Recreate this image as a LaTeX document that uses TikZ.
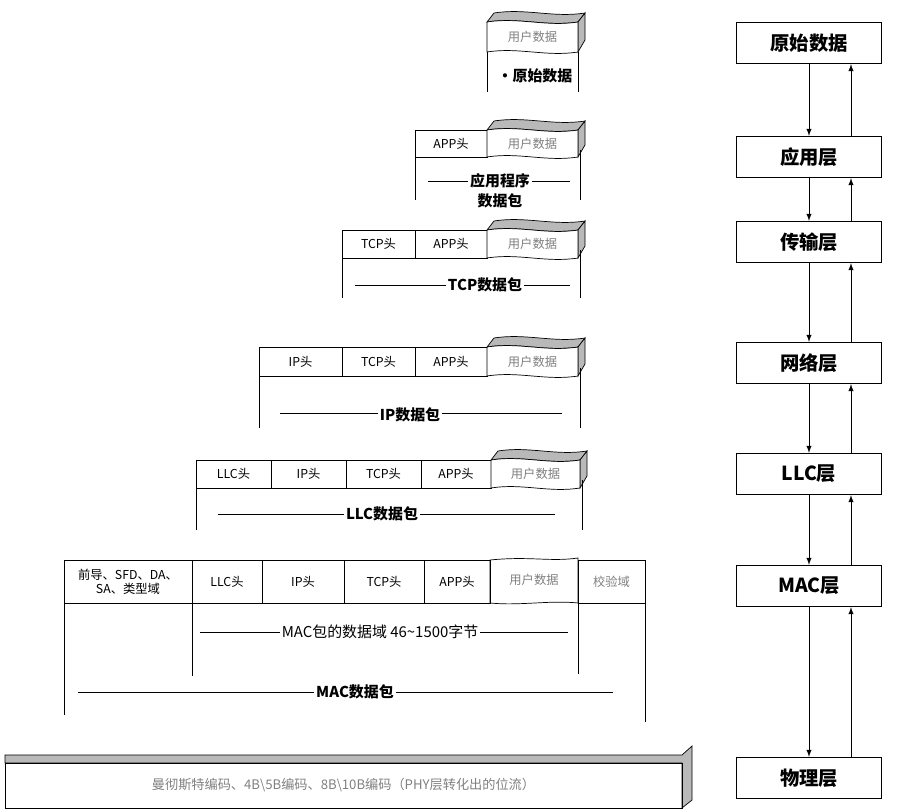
\documentclass[tikz,border=0pt]{standalone}
\usepackage{fontspec}
\setmainfont{Noto Sans CJK SC}
\usetikzlibrary{calc}
\tikzset{
	cell/.style={font=\fontsize{7}{8}\selectfont},
	layer/.style={draw,thick,minimum width=2.9cm,minimum height=0.82cm,font=\fontsize{11}{12}\selectfont\bfseries},
	pktname/.style={fill=white,inner sep=1pt,font=\fontsize{8.5}{10}\selectfont\bfseries},
	udat/.style={text=gray,font=\fontsize{7}{8}\selectfont},
	lyrarrow/.style={->,>=latex}
}
% user data box with wavy edges: x1, x2, y1 (top), y2 (bottom), node name
\newcommand\userbox[5]{%
	\fill[gray!55,draw=black] (#1,#3) .. controls ($(#1,#3)!.35!(#2,#3)+(0,-5)$) and ($(#1,#3)!.65!(#2,#3)+(0,5)$) .. (#2,#3)
		-- (#2+7,#3-9) .. controls ($(#1,#3)!.65!(#2,#3)+(7,-4)$) and ($(#1,#3)!.35!(#2,#3)+(7,-14)$) .. (#1+7,#3-9) -- cycle;
	\fill[gray!55,draw=black] (#2,#3) -- (#2+7,#3-9) -- (#2+7,#4-12) -- (#2,#4) -- cycle;
	\draw[fill=white] (#1,#3) -- (#1,#4) .. controls ($(#1,#4)!.35!(#2,#4)+(0,-5)$) and ($(#1,#4)!.65!(#2,#4)+(0,5)$) .. (#2,#4)
		-- (#2,#3) .. controls ($(#1,#3)!.65!(#2,#3)+(0,5)$) and ($(#1,#3)!.35!(#2,#3)+(0,-5)$) .. (#1,#3);
	\node[udat] (#5) at ($(#1,#3)!.5!(#2,#4)$) {用户数据};
}
\begin{document}
\begin{tikzpicture}[x=0.02cm,y=-0.02cm]
	\useasboundingbox (0,0) rectangle (913,811);
	% layer column
	\node[layer] (raw) at (809,43) {原始数据};
	\node[layer] (app) at (809,157) {应用层};
	\node[layer] (tcp) at (809,242) {传输层};
	\node[layer] (net) at (809,363) {网络层};
	\node[layer] (llc) at (809,474) {LLC层};
	\node[layer] (mac) at (809,586) {MAC层};
	\node[layer] (phy) at (809,778) {物理层};
	\foreach \a/\b in {raw/app,app/tcp,tcp/net,net/llc,llc/mac,mac/phy}{
		\draw[lyrarrow] (\a.south) -- (\b.north);
		\draw[lyrarrow] ([xshift=0.84cm]\b.north) -- ([xshift=0.84cm]\a.south);
	}
	% raw data
	\userbox{487}{578}{22}{52}{u1}
	\draw (487,52) -- (487,92) (578,52) -- (578,92);
	\node[pktname] (l1) at (535,76) {·原始数据};
	% application packet
	\draw (415,130) rectangle (487,157) node[midway,cell] (a2) {APP头};
	\userbox{487}{578}{130}{157}{u2}
	\draw (415,157) -- (415,200) (580,150) -- (580,200);
	\draw (428,181) -- (570,181);
	\node[pktname] (l2) at (500,181) {应用程序};
	\node[pktname] (l2b) at (500,201) {数据包};
	% TCP packet
	\draw (342,230) rectangle (415,258) node[midway,cell] (t3) {TCP头};
	\draw (415,230) rectangle (487,258) node[midway,cell] (a3) {APP头};
	\userbox{487}{578}{230}{258}{u3}
	\draw (342,258) -- (342,298) (580,250) -- (580,298);
	\draw (355,285) -- (570,285);
	\node[pktname] (l3) at (485,285) {TCP数据包};
	% IP packet
	\draw (259,347) rectangle (342,376) node[midway,cell] (i4) {IP头};
	\draw (342,347) rectangle (415,376) node[midway,cell] (t4) {TCP头};
	\draw (415,347) rectangle (487,376) node[midway,cell] (a4) {APP头};
	\userbox{487}{578}{347}{376}{u4}
	\draw (259,376) -- (259,428) (580,368) -- (580,428);
	\draw (280,413) -- (562,413);
	\node[pktname] (l4) at (410,415) {IP数据包};
	% LLC packet
	\draw (196,460) rectangle (271,488) node[midway,cell] (c5) {LLC头};
	\draw (271,460) rectangle (346,488) node[midway,cell] (i5) {IP头};
	\draw (346,460) rectangle (421,488) node[midway,cell] (t5) {TCP头};
	\draw (421,460) rectangle (491,488) node[midway,cell] (a5) {APP头};
	\userbox{491}{580}{460}{488}{u5}
	\draw (196,488) -- (196,530) (582,480) -- (582,530);
	\draw (218,514) -- (555,514);
	\node[pktname] (l5) at (382,514) {LLC数据包};
	% MAC packet
	\draw (64,560) rectangle (192,603) node[midway,cell,align=center] (h6) {前导、SFD、DA、\\SA、类型域};
	\draw (192,560) rectangle (262,603) node[midway,cell] (c6) {LLC头};
	\draw (262,560) rectangle (344,603) node[midway,cell] (i6) {IP头};
	\draw (344,560) rectangle (424,603) node[midway,cell] (t6) {TCP头};
	\draw (424,560) rectangle (490,603) node[midway,cell] (a6) {APP头};
	\draw (490,560) .. controls (530,556) and (550,562) .. (578,558) -- (578,603) .. controls (550,600) and (520,606) .. (490,603) -- cycle;
	\node[udat] (u6) at (534,580) {用户数据};
	\draw (578,560) rectangle (645,603) node[midway,cell,text=gray] (k6) {校验域};
	\draw (192,603) -- (192,676) (578,603) -- (578,674);
	\draw (64,603) -- (64,715) (645,603) -- (645,722);
	\draw (200,632) -- (568,632);
	\node[fill=white,inner sep=1pt,font=\fontsize{8.5}{10}\selectfont] (m6) at (380,632) {MAC包的数据域 46\textasciitilde1500字节};
	\draw (78,692) -- (613,692);
	\node[pktname] (l6) at (355,692) {MAC数据包};
	% physical bit stream
	\fill[gray!55,draw=black] (5,755) -- (682,755) -- (692,746) -- (692,800) -- (682,808) -- (682,763) -- (5,763) -- cycle;
	\draw (5,763) rectangle (682,808) node[midway,udat,font=\fontsize{7.5}{9}\selectfont] (p7) {曼彻斯特编码、4B\textbackslash 5B编码、8B\textbackslash 10B编码（PHY层转化出的位流）};
\end{tikzpicture}
\end{document}
